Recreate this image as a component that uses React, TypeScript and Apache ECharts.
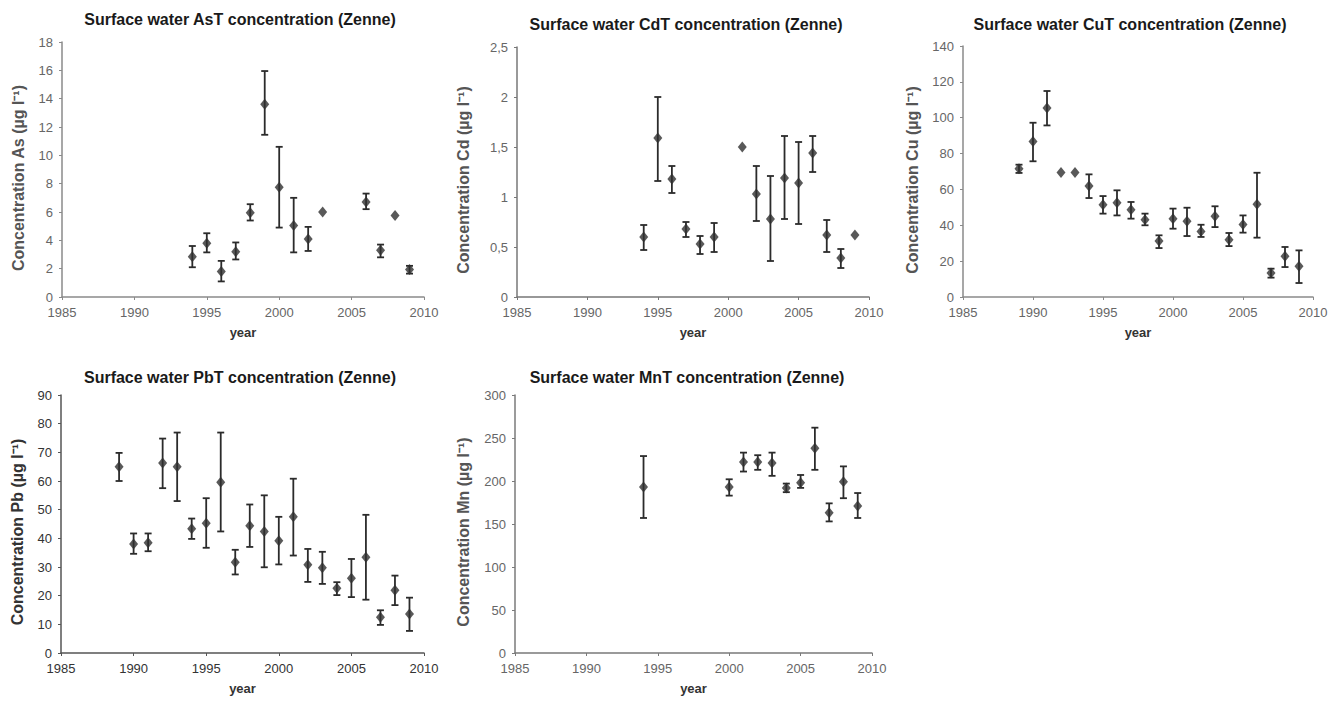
import React, { useEffect, useRef } from "react";
import * as echarts from "echarts";

// ---------- data ----------
const asYears = [1994, 1995, 1996, 1997, 1998, 1999, 2000, 2001, 2002, 2003, 2006, 2007, 2008, 2009];
const asMean = [2.85, 3.8, 1.8, 3.2, 5.95, 13.6, 7.75, 5.05, 4.1, 6.0, 6.7, 3.3, 5.75, 1.95];
const asLow = [2.1, 3.15, 1.1, 2.65, 5.4, 11.45, 4.9, 3.15, 3.25, 6.0, 6.2, 2.8, 5.75, 1.65];
const asHigh = [3.6, 4.5, 2.55, 3.85, 6.55, 15.95, 10.6, 7.0, 4.95, 6.0, 7.3, 3.7, 5.75, 2.2];

const cdYears = [1994, 1995, 1996, 1997, 1998, 1999, 2001, 2002, 2003, 2004, 2005, 2006, 2007, 2008, 2009];
const cdMean = [0.6, 1.59, 1.18, 0.68, 0.53, 0.6, 1.5, 1.03, 0.78, 1.19, 1.14, 1.44, 0.62, 0.39, 0.62];
const cdLow = [0.47, 1.16, 1.04, 0.6, 0.43, 0.45, 1.5, 0.76, 0.36, 0.78, 0.73, 1.25, 0.45, 0.29, 0.62];
const cdHigh = [0.72, 2.0, 1.31, 0.75, 0.61, 0.74, 1.5, 1.31, 1.21, 1.61, 1.55, 1.61, 0.77, 0.48, 0.62];

const cuYears = [1989, 1990, 1991, 1992, 1993, 1994, 1995, 1996, 1997, 1998, 1999, 2000, 2001, 2002, 2003, 2004, 2005, 2006, 2007, 2008, 2009];
const cuMean = [71.6, 86.8, 105.4, 69.5, 69.5, 61.9, 51.5, 52.6, 48.7, 43.1, 31.2, 43.7, 42.2, 36.6, 45.0, 32.0, 40.5, 51.7, 13.4, 22.7, 17.1];
const cuLow = [69.2, 75.7, 95.7, 69.5, 69.5, 55.2, 46.5, 45.5, 43.7, 40.0, 27.3, 38.1, 34.0, 33.5, 39.0, 28.4, 35.9, 33.1, 10.8, 16.7, 7.8];
const cuHigh = [73.8, 97.2, 114.9, 69.5, 69.5, 68.4, 56.3, 59.5, 53.0, 46.5, 34.4, 49.3, 49.8, 40.3, 50.6, 35.7, 45.5, 69.3, 15.8, 27.9, 26.0];

const pbYears = [1989, 1990, 1991, 1992, 1993, 1994, 1995, 1996, 1997, 1998, 1999, 2000, 2001, 2002, 2003, 2004, 2005, 2006, 2007, 2008, 2009];
const pbMean = [65.0, 38.0, 38.5, 66.3, 65.0, 43.3, 45.3, 59.6, 31.7, 44.4, 42.4, 39.2, 47.5, 30.8, 29.7, 22.6, 26.1, 33.4, 12.5, 21.9, 13.6];
const pbLow = [60.0, 34.6, 35.5, 57.5, 53.0, 39.8, 36.7, 42.4, 27.4, 37.0, 29.9, 30.9, 34.0, 24.8, 24.1, 20.2, 19.5, 18.6, 9.8, 16.7, 7.7];
const pbHigh = [69.8, 41.7, 41.7, 74.8, 76.9, 46.9, 54.0, 76.9, 36.0, 51.8, 55.0, 47.5, 60.8, 36.3, 35.3, 24.7, 32.8, 48.2, 14.9, 27.0, 19.3];

const mnYears = [1994, 2000, 2001, 2002, 2003, 2004, 2005, 2006, 2007, 2008, 2009];
const mnMean = [193, 193, 222, 222, 221, 192, 198, 238, 163, 199, 171];
const mnLow = [157, 183, 211, 213, 206, 187, 192, 213, 153, 180, 157];
const mnHigh = [229, 202, 233, 230, 233, 197, 207, 262, 174, 217, 186];

const titles = [
  "Surface water AsT concentration (Zenne)",
  "Surface water CdT concentration (Zenne)",
  "Surface water CuT concentration (Zenne)",
  "Surface water PbT concentration (Zenne)",
  "Surface water MnT concentration (Zenne)",
];
const yNames = [
  "Concentration As (µg l⁻¹)",
  "Concentration Cd (µg l⁻¹)",
  "Concentration Cu (µg l⁻¹)",
  "Concentration Pb (µg l⁻¹)",
  "Concentration Mn (µg l⁻¹)",
];
const xName = "year";
const xMin = 1985;
const xMax = 2010;
const xStep = 5;
const yMax = [18, 2.5, 140, 90, 300];
const yStep = [2, 0.5, 20, 10, 50];

const datasets = [
  { years: asYears, mean: asMean, low: asLow, high: asHigh },
  { years: cdYears, mean: cdMean, low: cdLow, high: cdHigh },
  { years: cuYears, mean: cuMean, low: cuLow, high: cuHigh },
  { years: pbYears, mean: pbMean, low: pbLow, high: pbHigh },
  { years: mnYears, mean: mnMean, low: mnLow, high: mnHigh },
];

// ---------- layout ----------
const grids = [
  { left: 62, top: 42, width: 362, height: 255 },
  { left: 517, top: 47, width: 352, height: 250 },
  { left: 963, top: 46, width: 350, height: 251 },
  { left: 61, top: 395, width: 363, height: 258 },
  { left: 515, top: 395, width: 357, height: 258 },
];
const titlePos = [
  { x: 240, y: 11 },
  { x: 686, y: 16 },
  { x: 1130, y: 16 },
  { x: 240, y: 369 },
  { x: 687, y: 369 },
];
const yNamePos = [
  { x: 18, y: 178 },
  { x: 463, y: 180 },
  { x: 912, y: 180 },
  { x: 17, y: 532 },
  { x: 463, y: 532 },
];
const axisColors = ["#8a8a8a", "#777777", "#8a8a8a", "#555555", "#7a7a7a"];
const labelColors = ["#666666", "#666666", "#666666", "#333333", "#666666"];

const FONT = "'Liberation Sans', Arial, sans-serif";

export default function App() {
  const ref = useRef<HTMLDivElement>(null);

  useEffect(() => {
    if (!ref.current) return;
    const chart = echarts.init(ref.current, undefined, { renderer: "svg" });

    const series: any[] = [];
    datasets.forEach((d, i) => {
      series.push({
        type: "custom",
        xAxisIndex: i,
        yAxisIndex: i,
        silent: true,
        data: d.years.map((y, k) => [y, d.low[k], d.high[k]]),
        renderItem: (params: any, api: any) => {
          const x = api.value(0);
          const lo = api.value(1);
          const hi = api.value(2);
          if (lo === hi) return null;
          const pLo = api.coord([x, lo]);
          const pHi = api.coord([x, hi]);
          const cw = 3.5;
          const style = { stroke: "#2b2b2b", lineWidth: 1.8 };
          return {
            type: "group",
            children: [
              { type: "line", shape: { x1: pLo[0], y1: pLo[1], x2: pHi[0], y2: pHi[1] }, style },
              { type: "line", shape: { x1: pHi[0] - cw, y1: pHi[1], x2: pHi[0] + cw, y2: pHi[1] }, style },
              { type: "line", shape: { x1: pLo[0] - cw, y1: pLo[1], x2: pLo[0] + cw, y2: pLo[1] }, style },
            ],
          };
        },
        z: 2,
      });
      series.push({
        type: "scatter",
        xAxisIndex: i,
        yAxisIndex: i,
        symbol: "diamond",
        symbolSize: [9, 11],
        itemStyle: { color: "#2f2f2f" },
        data: d.years.map((y, k) => [y, d.mean[k]]),
        z: 3,
      });
    });

    const option: any = {
      animation: false,
      backgroundColor: "#ffffff",
      title: titles.map((t, i) => ({
        text: t,
        left: titlePos[i].x,
        top: titlePos[i].y,
        textAlign: "center",
        padding: 0,
        textStyle: { fontFamily: FONT, fontSize: 16, fontWeight: "bold", color: "#1a1a1a" },
      })),
      grid: grids.map((g) => ({ ...g, containLabel: false })),
      xAxis: grids.map((_, i) => ({
        type: "value",
        gridIndex: i,
        min: xMin,
        max: xMax,
        interval: xStep,
        name: xName,
        nameLocation: "middle",
        nameGap: 29,
        nameTextStyle: { fontFamily: FONT, fontSize: 13, fontWeight: "bold", color: "#333" },
        splitLine: { show: false },
        axisLine: { show: true, lineStyle: { color: axisColors[i], width: 1.5 } },
        axisTick: { show: true, length: 3, lineStyle: { color: axisColors[i] } },
        axisLabel: {
          fontFamily: FONT,
          fontSize: 13,
          color: labelColors[i],
          margin: 9,
          formatter: (v: number) => String(v),
        },
      })),
      yAxis: grids.map((_, i) => ({
        type: "value",
        gridIndex: i,
        min: 0,
        max: yMax[i],
        interval: yStep[i],
        splitLine: { show: false },
        axisLine: { show: true, onZero: false, lineStyle: { color: axisColors[i], width: 1.5 } },
        axisTick: { show: true, length: 3, lineStyle: { color: axisColors[i] } },
        axisLabel: {
          fontFamily: FONT,
          fontSize: 13,
          color: labelColors[i],
          margin: 9,
          formatter: (v: number) => String(v).replace(".", ","),
        },
      })),
      graphic: yNames.map((n, i) => ({
        type: "text",
        x: yNamePos[i].x,
        y: yNamePos[i].y,
        rotation: Math.PI / 2,
        style: {
          text: n,
          align: "center",
          verticalAlign: "middle",
          fontFamily: FONT,
          fontSize: 16,
          fontWeight: "bold",
          fill: i === 3 ? "#333" : "#555",
        },
      })),
      series,
    };

    chart.setOption(option);
    return () => chart.dispose();
  }, []);

  return (
    <div
      ref={ref}
      style={{ position: "absolute", left: 0, top: 0, width: 1340, height: 701, background: "#fff" }}
    />
  );
}
